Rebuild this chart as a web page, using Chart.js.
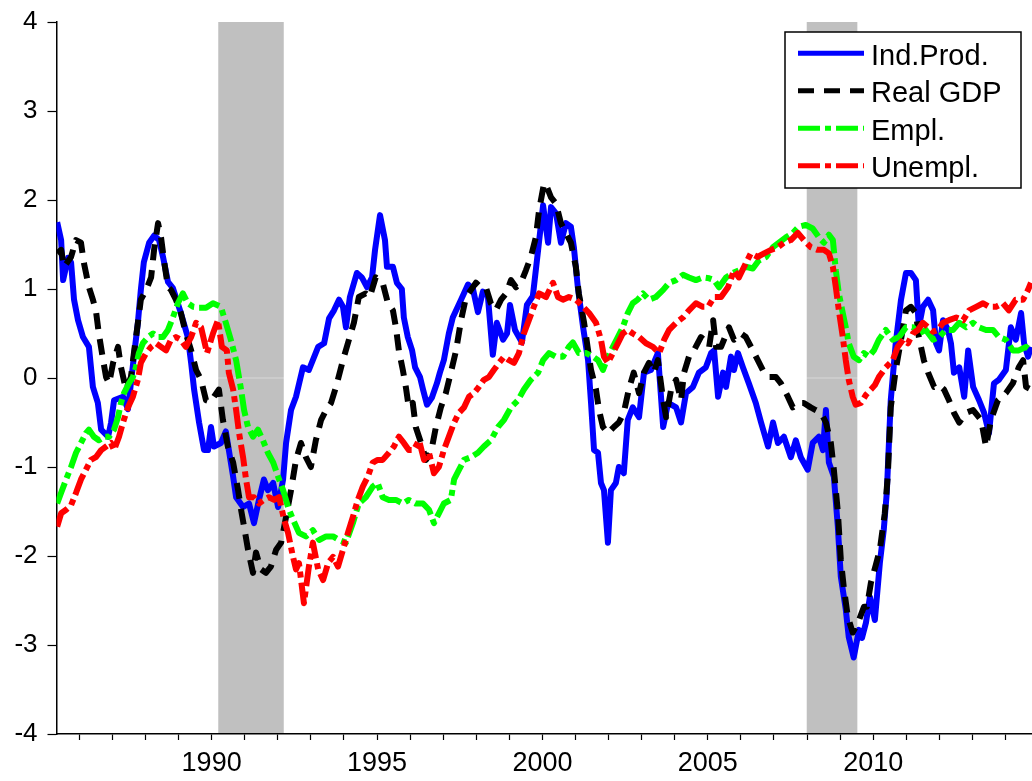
<!DOCTYPE html>
<html><head><meta charset="utf-8">
<script src="https://cdn.jsdelivr.net/npm/chart.js@4.4.1/dist/chart.umd.min.js"></script>
<style>html,body{margin:0;padding:0;background:#fff;}canvas{display:block;}</style>
</head><body>
<canvas id="c" width="1032" height="781"></canvas>
<script>
// ---------------- data ----------------
const seriesLabels = ['Ind.Prod.', 'Real GDP', 'Empl.', 'Unempl.'];

const ipYears = [1985.33,1985.45,1985.51,1985.66,1985.75,1985.84,1985.96,1986.11,1986.29,1986.41,1986.56,1986.66,1986.87,1986.96,1987.05,1987.32,1987.47,1987.65,1987.77,1987.86,1987.95,1988.11,1988.26,1988.41,1988.53,1988.68,1988.83,1989.07,1989.28,1989.38,1989.47,1989.62,1989.77,1989.89,1989.98,1990.07,1990.28,1990.43,1990.52,1990.65,1990.74,1990.95,1991.13,1991.28,1991.43,1991.58,1991.70,1991.86,1992.01,1992.16,1992.25,1992.40,1992.55,1992.76,1992.94,1993.22,1993.40,1993.55,1993.70,1993.85,1993.97,1994.06,1994.18,1994.39,1994.54,1994.70,1994.85,1994.94,1995.09,1995.24,1995.30,1995.48,1995.60,1995.75,1995.81,1995.93,1996.06,1996.15,1996.30,1996.39,1996.51,1996.66,1996.81,1996.90,1997.02,1997.17,1997.29,1997.54,1997.75,1997.90,1998.05,1998.20,1998.35,1998.50,1998.62,1998.81,1998.93,1999.02,1999.17,1999.38,1999.53,1999.71,1999.87,2000.02,2000.17,2000.26,2000.41,2000.56,2000.71,2000.86,2000.95,2001.07,2001.23,2001.38,2001.47,2001.56,2001.68,2001.77,2001.86,2001.98,2002.07,2002.22,2002.31,2002.46,2002.58,2002.73,2002.92,2003.07,2003.28,2003.49,2003.65,2003.80,2004.04,2004.19,2004.34,2004.55,2004.73,2004.94,2005.10,2005.19,2005.31,2005.46,2005.55,2005.70,2005.79,2005.91,2006.06,2006.24,2006.45,2006.61,2006.82,2006.97,2007.12,2007.30,2007.51,2007.66,2007.81,2008.02,2008.17,2008.36,2008.48,2008.57,2008.66,2008.81,2008.93,2009.02,2009.17,2009.26,2009.41,2009.57,2009.66,2009.78,2009.90,2010.05,2010.20,2010.32,2010.41,2010.53,2010.68,2010.84,2010.99,2011.14,2011.29,2011.38,2011.50,2011.66,2011.81,2011.90,2011.99,2012.11,2012.26,2012.35,2012.44,2012.60,2012.75,2012.87,2013.02,2013.20,2013.35,2013.50,2013.65,2013.80,2014.01,2014.16,2014.31,2014.47,2014.56,2014.68,2014.77];
const ipValues = [1.75,1.55,1.10,1.35,1.30,0.88,0.65,0.46,0.35,-0.10,-0.28,-0.58,-0.66,-0.50,-0.25,-0.21,-0.35,0.24,0.62,0.99,1.30,1.52,1.60,1.55,1.36,1.08,1.01,0.73,0.46,0.17,-0.13,-0.50,-0.81,-0.81,-0.55,-0.77,-0.73,-0.60,-0.81,-1.11,-1.34,-1.45,-1.41,-1.63,-1.37,-1.14,-1.26,-1.18,-1.45,-1.14,-0.73,-0.36,-0.21,0.12,0.09,0.35,0.39,0.67,0.76,0.88,0.80,0.57,0.91,1.18,1.13,1.02,1.13,1.44,1.83,1.55,1.25,1.25,1.07,1.00,0.68,0.46,0.31,0.12,0.01,-0.13,-0.30,-0.22,-0.06,0.06,0.20,0.50,0.68,0.88,1.05,1.00,0.74,0.97,0.92,0.26,0.62,0.43,0.50,0.82,0.54,0.40,0.82,0.92,1.44,1.94,1.52,1.92,1.85,1.52,1.74,1.70,1.47,1.02,0.57,0.20,-0.28,-0.81,-0.84,-1.18,-1.26,-1.85,-1.26,-1.18,-1.00,-1.07,-0.47,-0.33,-0.44,0.06,0.09,0.28,-0.55,-0.28,-0.33,-0.50,-0.17,-0.10,0.06,0.12,0.28,0.31,-0.21,0.06,-0.10,0.24,0.09,0.28,0.12,-0.06,-0.28,-0.50,-0.77,-0.50,-0.73,-0.66,-0.89,-0.70,-0.89,-1.03,-0.73,-0.66,-0.81,-0.36,-0.95,-1.11,-1.67,-2.23,-2.60,-2.91,-3.14,-2.83,-2.92,-2.75,-2.46,-2.72,-2.08,-1.70,-1.29,-0.25,0.39,0.88,1.18,1.18,1.10,0.57,0.80,0.88,0.76,0.39,0.31,0.65,0.54,0.39,0.06,0.12,-0.21,0.31,-0.10,-0.25,-0.39,-0.62,-0.06,-0.02,0.09,0.57,0.43,0.73,0.39,0.24,0.35];

const gdpYears = [1985.33,1985.45,1985.54,1985.75,1985.90,1986.05,1986.14,1986.29,1986.41,1986.50,1986.59,1986.72,1986.81,1986.90,1987.02,1987.17,1987.26,1987.41,1987.56,1987.65,1987.77,1987.86,1988.02,1988.17,1988.26,1988.38,1988.47,1988.56,1988.68,1988.77,1988.92,1989.07,1989.22,1989.38,1989.53,1989.68,1989.83,1989.98,1990.07,1990.22,1990.34,1990.49,1990.65,1990.80,1990.89,1990.98,1991.10,1991.25,1991.34,1991.49,1991.64,1991.79,1991.95,1992.10,1992.25,1992.40,1992.55,1992.70,1992.85,1993.00,1993.15,1993.31,1993.46,1993.61,1993.76,1993.97,1994.15,1994.30,1994.45,1994.66,1994.78,1994.96,1995.17,1995.33,1995.48,1995.57,1995.66,1995.78,1995.87,1995.96,1996.08,1996.17,1996.33,1996.48,1996.63,1996.78,1996.93,1997.08,1997.23,1997.39,1997.54,1997.69,1997.84,1997.99,1998.14,1998.29,1998.44,1998.59,1998.75,1998.90,1999.05,1999.20,1999.35,1999.50,1999.65,1999.80,1999.90,2000.05,2000.11,2000.26,2000.41,2000.56,2000.71,2000.86,2001.01,2001.10,2001.26,2001.38,2001.47,2001.62,2001.71,2001.83,2001.98,2002.16,2002.31,2002.46,2002.61,2002.76,2002.92,2003.07,2003.22,2003.37,2003.49,2003.65,2003.74,2003.89,2004.04,2004.19,2004.28,2004.43,2004.58,2004.79,2004.88,2005.04,2005.16,2005.25,2005.40,2005.64,2005.79,2006.00,2006.15,2006.36,2006.51,2006.70,2006.85,2007.06,2007.21,2007.42,2007.57,2007.75,2007.90,2008.11,2008.26,2008.42,2008.57,2008.72,2008.81,2008.93,2009.02,2009.11,2009.23,2009.38,2009.54,2009.72,2009.81,2009.93,2010.08,2010.20,2010.35,2010.44,2010.53,2010.68,2010.84,2010.99,2011.14,2011.29,2011.38,2011.53,2011.66,2011.84,2011.99,2012.14,2012.29,2012.44,2012.60,2012.81,2013.02,2013.26,2013.41,2013.56,2013.77,2014.01,2014.22,2014.40,2014.53,2014.62,2014.77];
const gdpValues = [1.40,1.44,1.25,1.36,1.55,1.52,1.29,1.02,0.88,0.76,0.50,0.20,0.01,-0.06,0.17,0.35,0.12,-0.13,0.01,0.28,0.62,0.88,0.99,1.13,1.44,1.74,1.58,1.32,1.02,0.99,0.88,0.73,0.50,0.31,0.09,-0.02,-0.25,-0.27,-0.21,-0.13,-0.47,-0.77,-0.95,-1.26,-1.48,-1.67,-1.93,-2.19,-1.96,-2.15,-2.19,-2.12,-1.93,-1.85,-1.56,-1.26,-0.92,-0.73,-0.89,-1.00,-0.70,-0.47,-0.36,-0.28,-0.10,0.20,0.43,0.62,0.91,0.95,0.91,1.13,1.07,0.84,0.76,0.57,0.31,0.09,-0.10,-0.33,-0.28,-0.55,-0.73,-0.92,-0.84,-0.55,-0.33,-0.17,0.06,0.31,0.65,0.91,0.99,1.07,1.02,1.02,0.84,0.76,0.88,0.95,1.10,1.02,1.07,1.21,1.36,1.58,1.89,2.19,2.17,2.03,1.96,1.74,1.63,1.52,1.25,0.95,0.62,0.31,0.09,-0.13,-0.36,-0.55,-0.62,-0.55,-0.50,-0.39,-0.13,0.06,-0.17,0.06,0.17,0.06,0.20,-0.25,-0.44,-0.13,-0.02,-0.25,0.06,0.24,0.31,0.46,0.43,0.35,0.65,0.35,0.35,0.57,0.43,0.50,0.46,0.31,0.20,0.06,0.01,0.01,-0.06,-0.21,-0.33,-0.28,-0.28,-0.33,-0.36,-0.39,-0.50,-0.73,-1.03,-1.50,-2.04,-2.35,-2.68,-2.86,-2.75,-2.57,-2.57,-2.30,-2.10,-1.93,-1.52,-1.10,-0.33,0.09,0.43,0.76,0.80,0.73,0.46,0.20,0.06,-0.10,-0.08,-0.13,-0.25,-0.39,-0.50,-0.39,-0.36,-0.47,-0.77,-0.47,-0.25,-0.17,-0.06,0.12,0.20,-0.10,-0.13];

const emplYears = [1985.33,1985.45,1985.60,1985.75,1985.90,1986.05,1986.20,1986.29,1986.44,1986.59,1986.75,1986.90,1987.05,1987.17,1987.26,1987.35,1987.50,1987.62,1987.71,1987.80,1987.92,1988.08,1988.23,1988.38,1988.53,1988.68,1988.83,1988.98,1989.13,1989.28,1989.44,1989.62,1989.83,1990.04,1990.28,1990.43,1990.58,1990.74,1990.89,1990.98,1991.10,1991.25,1991.40,1991.55,1991.70,1991.86,1992.01,1992.16,1992.31,1992.46,1992.64,1992.85,1993.06,1993.25,1993.46,1993.67,1993.85,1994.06,1994.27,1994.45,1994.66,1994.87,1995.02,1995.17,1995.36,1995.57,1995.78,1995.96,1996.17,1996.39,1996.57,1996.72,1996.87,1997.02,1997.23,1997.33,1997.48,1997.63,1997.84,1998.05,1998.23,1998.44,1998.66,1998.84,1999.05,1999.26,1999.44,1999.65,1999.87,2000.02,2000.20,2000.41,2000.62,2000.80,2000.92,2001.10,2001.32,2001.53,2001.68,2001.83,2001.98,2002.13,2002.28,2002.43,2002.58,2002.73,2002.88,2003.04,2003.22,2003.43,2003.65,2003.83,2004.04,2004.25,2004.43,2004.64,2004.85,2005.04,2005.19,2005.34,2005.55,2005.76,2005.94,2006.15,2006.36,2006.54,2006.76,2006.97,2007.15,2007.36,2007.57,2007.75,2007.96,2008.17,2008.36,2008.51,2008.66,2008.78,2008.87,2008.96,2009.08,2009.17,2009.26,2009.41,2009.57,2009.72,2009.87,2010.02,2010.17,2010.38,2010.59,2010.78,2010.99,2011.20,2011.38,2011.59,2011.81,2011.99,2012.20,2012.41,2012.60,2012.81,2013.02,2013.20,2013.41,2013.62,2013.80,2014.01,2014.22,2014.40,2014.62,2014.77];
const emplValues = [-1.41,-1.29,-1.14,-1.00,-0.84,-0.73,-0.62,-0.58,-0.66,-0.70,-0.66,-0.66,-0.58,-0.44,-0.28,-0.17,-0.06,0.01,0.12,0.28,0.39,0.46,0.50,0.46,0.46,0.54,0.68,0.84,0.95,0.84,0.80,0.79,0.79,0.84,0.80,0.62,0.43,0.20,-0.13,-0.36,-0.55,-0.66,-0.58,-0.70,-0.84,-0.95,-1.11,-1.26,-1.45,-1.59,-1.74,-1.78,-1.71,-1.82,-1.78,-1.78,-1.82,-1.85,-1.63,-1.41,-1.34,-1.22,-1.18,-1.34,-1.37,-1.37,-1.41,-1.37,-1.41,-1.41,-1.48,-1.63,-1.52,-1.41,-1.37,-1.14,-1.03,-0.92,-0.89,-0.84,-0.77,-0.70,-0.55,-0.47,-0.33,-0.25,-0.13,-0.02,0.06,0.20,0.28,0.24,0.24,0.35,0.40,0.28,0.28,0.24,0.20,0.09,0.24,0.35,0.46,0.57,0.73,0.84,0.88,0.95,0.88,0.91,0.99,1.07,1.10,1.16,1.13,1.10,1.13,1.12,1.10,1.02,1.13,1.18,1.21,1.25,1.23,1.32,1.36,1.47,1.52,1.58,1.63,1.70,1.72,1.68,1.58,1.52,1.61,1.55,1.21,0.95,0.73,0.57,0.39,0.24,0.20,0.28,0.24,0.31,0.43,0.54,0.43,0.46,0.57,0.57,0.50,0.54,0.43,0.46,0.54,0.54,0.62,0.57,0.62,0.57,0.54,0.54,0.46,0.43,0.31,0.31,0.35,0.31];

const unemplYears = [1985.33,1985.45,1985.60,1985.75,1985.90,1986.05,1986.20,1986.35,1986.50,1986.66,1986.81,1986.96,1987.05,1987.20,1987.32,1987.47,1987.62,1987.77,1987.86,1988.02,1988.17,1988.32,1988.47,1988.62,1988.77,1988.92,1989.07,1989.22,1989.38,1989.53,1989.68,1989.86,1990.04,1990.19,1990.31,1990.46,1990.52,1990.65,1990.74,1990.83,1990.95,1991.04,1991.13,1991.28,1991.43,1991.58,1991.73,1991.89,1992.04,1992.19,1992.31,1992.46,1992.55,1992.64,1992.79,1992.94,1993.06,1993.22,1993.37,1993.52,1993.67,1993.82,1993.97,1994.12,1994.27,1994.42,1994.57,1994.72,1994.87,1995.02,1995.17,1995.36,1995.51,1995.66,1995.81,1995.96,1996.11,1996.27,1996.42,1996.57,1996.72,1996.87,1997.02,1997.17,1997.33,1997.48,1997.63,1997.78,1997.93,1998.08,1998.23,1998.38,1998.53,1998.69,1998.84,1998.99,1999.14,1999.29,1999.44,1999.59,1999.74,1999.90,2000.11,2000.32,2000.47,2000.62,2000.80,2001.01,2001.23,2001.41,2001.62,2001.77,2001.86,2001.98,2002.13,2002.28,2002.43,2002.58,2002.73,2002.92,2003.13,2003.34,2003.53,2003.68,2003.83,2004.04,2004.25,2004.43,2004.64,2004.85,2005.01,2005.19,2005.40,2005.61,2005.79,2005.94,2006.15,2006.30,2006.51,2006.70,2006.91,2007.12,2007.30,2007.51,2007.72,2007.90,2008.11,2008.32,2008.51,2008.66,2008.78,2008.87,2008.96,2009.08,2009.17,2009.26,2009.38,2009.47,2009.63,2009.78,2009.93,2010.05,2010.17,2010.38,2010.59,2010.74,2010.90,2011.05,2011.20,2011.35,2011.50,2011.66,2011.81,2011.96,2012.11,2012.29,2012.51,2012.72,2012.90,2013.11,2013.32,2013.50,2013.71,2013.92,2014.10,2014.31,2014.53,2014.68,2014.77];
const unemplValues = [-1.67,-1.52,-1.48,-1.43,-1.29,-1.14,-1.03,-0.92,-0.89,-0.81,-0.77,-0.73,-0.81,-0.66,-0.50,-0.33,-0.21,-0.02,0.17,0.28,0.35,0.39,0.35,0.31,0.43,0.46,0.43,0.35,0.46,0.62,0.57,0.28,0.50,0.65,0.35,0.31,0.06,-0.13,-0.36,-0.62,-0.89,-1.14,-1.34,-1.34,-1.41,-1.37,-1.34,-1.37,-1.34,-1.59,-1.74,-2.01,-2.15,-2.08,-2.53,-2.12,-1.85,-2.15,-2.27,-2.08,-2.01,-2.12,-1.93,-1.74,-1.56,-1.37,-1.22,-1.11,-0.95,-0.92,-0.92,-0.84,-0.77,-0.66,-0.73,-0.81,-0.81,-0.70,-0.92,-0.84,-1.07,-1.00,-0.81,-0.66,-0.50,-0.39,-0.33,-0.21,-0.17,-0.10,-0.02,0.01,0.09,0.17,0.24,0.20,0.17,0.28,0.50,0.65,0.80,0.95,0.91,1.07,0.91,0.88,0.91,0.88,0.80,0.73,0.62,0.43,0.24,0.17,0.28,0.39,0.50,0.54,0.50,0.46,0.39,0.35,0.28,0.43,0.54,0.62,0.68,0.76,0.84,0.80,0.80,0.91,0.91,1.02,1.21,1.13,1.29,1.40,1.36,1.40,1.44,1.47,1.52,1.55,1.63,1.55,1.47,1.44,1.44,1.40,1.25,1.02,0.76,0.46,0.20,-0.02,-0.21,-0.30,-0.28,-0.19,-0.13,-0.08,0.01,0.12,0.20,0.35,0.43,0.39,0.50,0.54,0.62,0.57,0.52,0.54,0.62,0.65,0.68,0.65,0.76,0.80,0.84,0.80,0.80,0.84,0.76,0.88,0.88,0.99,1.07];

const recessionStarts = [1990.20, 2007.99];
const recessionEnds   = [1992.18, 2009.52];
const xLabelYears = [1990, 1995, 2000, 2005, 2010];
const xRange = [1985.31, 2014.80];
const yRange = [-4, 4];

// ---------------- build ----------------
const toPoints = (xs, ys) => xs.map((x, i) => ({ x: x, y: ys[i] }));

const styles = [
  { color: '#0000ff', dash: [], order: 4 },
  { color: '#000000', dash: [16, 10], order: 3 },
  { color: '#00ff00', dash: [22, 5, 6, 5], order: 2 },
  { color: '#ff0000', dash: [22, 5, 6, 5], order: 1 }
];
const seriesData = [
  toPoints(ipYears, ipValues),
  toPoints(gdpYears, gdpValues),
  toPoints(emplYears, emplValues),
  toPoints(unemplYears, unemplValues)
];

const datasets = seriesLabels.map((lab, i) => ({
  label: lab,
  data: seriesData[i],
  borderColor: styles[i].color,
  backgroundColor: styles[i].color,
  borderDash: styles[i].dash,
  borderWidth: 6,
  borderCapStyle: 'butt',
  borderJoinStyle: 'round',
  pointRadius: 0,
  tension: 0,
  fill: false,
  order: styles[i].order
}));

const shadePlugin = {
  id: 'shade',
  beforeDraw(chart) {
    const { ctx, chartArea: a, scales: { x, y } } = chart;
    ctx.save();
    ctx.fillStyle = '#c0c0c0';
    recessionStarts.forEach((s, i) => {
      const x0 = x.getPixelForValue(s), x1 = x.getPixelForValue(recessionEnds[i]);
      ctx.fillRect(x0, a.top, x1 - x0, a.bottom - a.top);
    });
    ctx.strokeStyle = 'rgba(255,255,255,0.25)';
    ctx.lineWidth = 1.5;
    ctx.beginPath();
    const y0 = y.getPixelForValue(0);
    ctx.moveTo(a.left, y0); ctx.lineTo(a.right, y0); ctx.stroke();
    ctx.restore();
  }
};

const legendPlugin = {
  id: 'boxLegend',
  afterDraw(chart) {
    const ctx = chart.ctx, a = chart.chartArea;
    const bw = 236, bh = 156;
    const bx = a.right - 247, by = a.top + 10;
    ctx.save();
    ctx.fillStyle = '#ffffff';
    ctx.fillRect(bx, by, bw, bh);
    ctx.lineWidth = 1.5;
    ctx.strokeStyle = '#000000';
    ctx.strokeRect(bx, by, bw, bh);
    chart.data.datasets.forEach((ds, i) => {
      const yy = by + 21.3 + i * 37.5;
      ctx.beginPath();
      ctx.setLineDash(ds.borderDash || []);
      ctx.lineWidth = 5;
      ctx.lineCap = 'butt';
      ctx.strokeStyle = ds.borderColor;
      ctx.moveTo(bx + 13, yy);
      ctx.lineTo(bx + 79, yy);
      ctx.stroke();
      ctx.setLineDash([]);
      ctx.fillStyle = '#000000';
      ctx.font = '29px "Liberation Sans", Arial, sans-serif';
      ctx.textBaseline = 'alphabetic';
      ctx.textAlign = 'left';
      ctx.fillText(ds.label, bx + 86, yy + 11.5);
    });
    ctx.restore();
  }
};

Chart.defaults.font.family = '"Liberation Sans", Arial, sans-serif';
Chart.defaults.color = '#000000';

new Chart(document.getElementById('c'), {
  type: 'line',
  data: { datasets: datasets },
  options: {
    responsive: false,
    animation: false,
    devicePixelRatio: 1,
    layout: { padding: { top: 22, left: 0, right: 0, bottom: 0 } },
    plugins: { legend: { display: false }, tooltip: { enabled: false } },
    scales: {
      x: {
        type: 'linear',
        min: xRange[0],
        max: xRange[1],
        afterFit: (s) => { s.height = 47; s.paddingLeft = 0; s.paddingRight = 0; },
        grid: { drawOnChartArea: false, drawTicks: true, tickLength: 6, color: '#000', tickWidth: 1.2 },
        border: { display: true, color: '#000', width: 1.5 },
        ticks: {
          stepSize: 1,
          includeBounds: false,
          autoSkip: false,
          maxRotation: 0,
          padding: 7,
          font: { size: 27 },
          color: '#000',
          callback: (v) => xLabelYears.includes(v) ? String(v) : ''
        }
      },
      y: {
        type: 'linear',
        min: yRange[0],
        max: yRange[1],
        afterFit: (s) => { s.width = 56.5; s.paddingTop = 0; s.paddingBottom = 0; },
        grid: { drawOnChartArea: false, drawTicks: true, tickLength: 9, color: '#000', tickWidth: 1.2 },
        border: { display: true, color: '#000', width: 1.5 },
        ticks: { stepSize: 1, padding: 10, font: { size: 26 }, color: '#000' }
      }
    }
  },
  plugins: [shadePlugin, legendPlugin]
});
</script>
</body></html>
